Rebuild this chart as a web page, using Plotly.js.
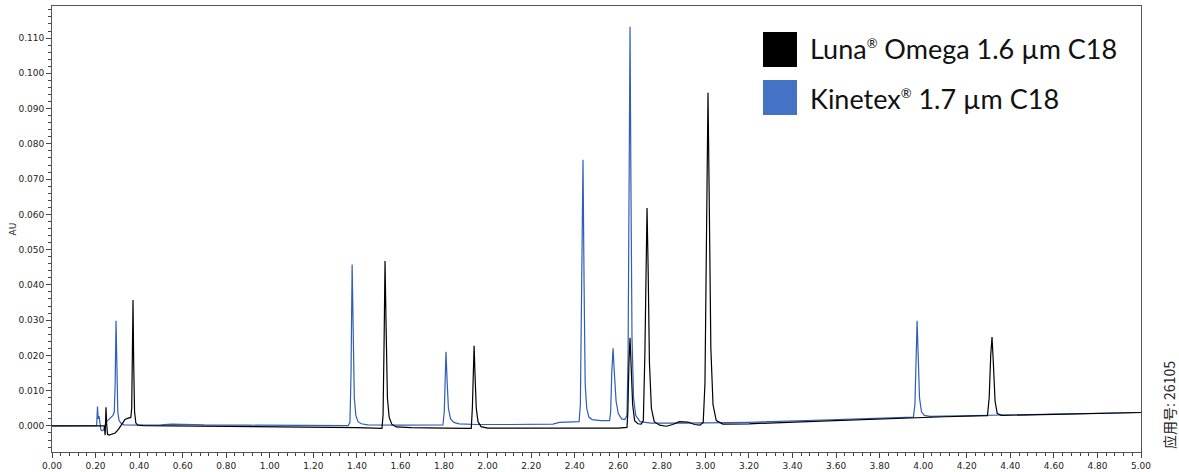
<!DOCTYPE html>
<html>
<head>
<meta charset="utf-8">
<script src="https://cdn.plot.ly/plotly-3.0.1.min.js"></script>
<style>html,body{margin:0;padding:0;background:#fff;}#chart{width:1179px;height:472px;}</style>
</head>
<body>
<div id="chart"></div>
<script>
// Retention time (min) and absorbance (AU)
const lunaTime = [0.00,0.24,0.244,0.246,0.248,0.251,0.255,0.262,0.275,0.290,0.305,0.320,0.335,0.350,0.362,0.366,0.369,0.372,0.375,0.379,0.385,0.395,0.420,0.600,0.800,1.000,1.200,1.400,1.515,1.520,1.525,1.529,1.534,1.540,1.548,1.560,1.580,1.650,1.800,1.925,1.930,1.934,1.938,1.942,1.948,1.956,1.970,2.000,2.300,2.600,2.640,2.644,2.649,2.654,2.659,2.666,2.675,2.690,2.705,2.715,2.722,2.727,2.732,2.737,2.743,2.752,2.765,2.790,2.820,2.850,2.880,2.920,2.950,2.975,2.990,2.998,3.005,3.012,3.018,3.025,3.035,3.050,3.080,3.200,3.500,3.800,4.100,4.295,4.303,4.310,4.316,4.322,4.330,4.340,4.360,4.600,5.000];
const lunaAU = [0.0000,0.0000,-0.0026,0.0000,0.0053,0.0005,-0.0024,-0.0026,-0.0024,-0.0020,-0.0010,0.0006,0.0018,0.0022,0.0024,0.0050,0.0200,0.0357,0.0180,0.0040,0.0008,0.0002,0.0001,0.0000,0.0000,-0.0002,-0.0003,-0.0005,-0.0007,0.0030,0.0250,0.0468,0.0280,0.0080,0.0025,0.0005,-0.0003,-0.0005,-0.0006,-0.0007,0.0050,0.0160,0.0227,0.0150,0.0050,0.0012,-0.0002,-0.0006,-0.0007,-0.0006,-0.0004,0.0040,0.0180,0.0250,0.0170,0.0060,0.0015,0.0006,0.0005,0.0015,0.0200,0.0480,0.0618,0.0450,0.0180,0.0050,0.0012,0.0002,-0.0001,0.0004,0.0012,0.0011,0.0004,0.0002,0.0010,0.0120,0.0600,0.0945,0.0620,0.0220,0.0060,0.0015,0.0005,0.0006,0.0013,0.0020,0.0026,0.0029,0.0080,0.0200,0.0252,0.0180,0.0070,0.0035,0.0030,0.0033,0.0038];

const kinetexTime = [0.00,0.20,0.205,0.209,0.212,0.216,0.220,0.224,0.230,0.236,0.242,0.250,0.260,0.270,0.280,0.286,0.290,0.294,0.298,0.302,0.308,0.316,0.330,0.360,0.400,0.500,0.550,0.650,0.700,0.900,1.200,1.360,1.368,1.373,1.378,1.383,1.388,1.395,1.405,1.420,1.450,1.600,1.795,1.801,1.805,1.809,1.814,1.820,1.830,1.845,1.870,1.950,2.100,2.300,2.330,2.420,2.426,2.432,2.438,2.443,2.448,2.455,2.465,2.480,2.520,2.560,2.565,2.570,2.576,2.582,2.590,2.600,2.615,2.630,2.640,2.645,2.650,2.654,2.658,2.663,2.670,2.680,2.700,2.750,2.900,3.200,3.500,3.800,3.955,3.962,3.967,3.972,3.977,3.983,3.992,4.005,4.030,4.300,4.600,5.000];
const kinetexAU = [0.0000,0.0000,0.0001,0.0055,0.0020,0.0028,0.0002,-0.0010,-0.0014,-0.0012,-0.0002,0.0012,0.0018,0.0024,0.0030,0.0040,0.0120,0.0298,0.0150,0.0040,0.0015,0.0008,0.0003,0.0002,0.0002,0.0003,0.0005,0.0004,0.0003,0.0002,0.0001,0.0001,0.0010,0.0150,0.0458,0.0250,0.0080,0.0030,0.0012,0.0006,0.0003,0.0002,0.0003,0.0040,0.0140,0.0210,0.0130,0.0050,0.0020,0.0010,0.0006,0.0004,0.0004,0.0005,0.0010,0.0012,0.0060,0.0350,0.0755,0.0400,0.0120,0.0050,0.0025,0.0018,0.0015,0.0015,0.0040,0.0150,0.0220,0.0150,0.0070,0.0035,0.0020,0.0018,0.0030,0.0200,0.0700,0.1132,0.0700,0.0250,0.0080,0.0030,0.0012,0.0008,0.0008,0.0010,0.0016,0.0022,0.0025,0.0060,0.0200,0.0298,0.0200,0.0080,0.0040,0.0030,0.0027,0.0030,0.0033,0.0038];

const reg = '<sup><span style="font-size:13px">®</span></sup>';
const seriesNames = ["Luna" + reg + " Omega 1.6 µm C18", "Kinetex" + reg + " 1.7 µm C18"];
const yTickVals = [0.000,0.010,0.020,0.030,0.040,0.050,0.060,0.070,0.080,0.090,0.100,0.110];
const xTickVals = [0.00,0.20,0.40,0.60,0.80,1.00,1.20,1.40,1.60,1.80,2.00,2.20,2.40,2.60,2.80,3.00,3.20,3.40,3.60,3.80,4.00,4.20,4.40,4.60,4.80,5.00];
const appNote = "应用号: 26105";

const blue = "#2f5db8";
const legendBlue = "#4472c4";

const traces = [
  {x: kinetexTime, y: kinetexAU, type: "scatter", mode: "lines", name: "Kinetex",
   line: {color: blue, width: 1.2}, hoverinfo: "skip"},
  {x: lunaTime, y: lunaAU, type: "scatter", mode: "lines", name: "Luna Omega",
   line: {color: "#000000", width: 1.2}, hoverinfo: "skip"}
];

const tickFont = {family: "DejaVu Sans, Verdana, sans-serif", size: 9, color: "#222"};
const legFont = {family: "Lato, 'Open Sans', sans-serif", size: 27, color: "#111"};

const layout = {
  width: 1179, height: 472,
  margin: {l: 52, r: 38, t: 6, b: 20},
  paper_bgcolor: "#fff", plot_bgcolor: "#fff",
  showlegend: false,
  xaxis: {
    range: [0, 5], tickvals: xTickVals, ticktext: xTickVals.map(v => v.toFixed(2)),
    ticks: "outside", ticklen: 5, tickcolor: "#444", tickwidth: 1,
    minor: {dtick: 0.04, tick0: 0, ticks: "outside", ticklen: 3, tickcolor: "#444"},
    showline: true, linecolor: "#555", linewidth: 1, mirror: true,
    showgrid: false, zeroline: false, tickfont: tickFont, automargin: false
  },
  yaxis: {
    range: [-0.0074, 0.1191], tickvals: yTickVals, ticktext: yTickVals.map(v => v.toFixed(3)),
    ticks: "outside", ticklen: 5, tickcolor: "#444", tickwidth: 1,
    minor: {dtick: 0.002, tick0: 0, ticks: "outside", ticklen: 3, tickcolor: "#444"},
    showline: true, linecolor: "#555", linewidth: 1, mirror: true,
    showgrid: false, zeroline: false, tickfont: tickFont, automargin: false,
    title: {text: "AU", font: tickFont, standoff: 0}
  },
  shapes: [
    {type: "rect", xref: "paper", yref: "paper", x0: 0.6529, x1: 0.6841, y0: 0.8632, y1: 0.9417,
     fillcolor: "#000", line: {width: 0}},
    {type: "rect", xref: "paper", yref: "paper", x0: 0.6529, x1: 0.6841, y0: 0.7556, y1: 0.8341,
     fillcolor: legendBlue, line: {width: 0}}
  ],
  annotations: [
    {xref: "paper", yref: "paper", x: 0.6942, y: 0.9036, xanchor: "left", yanchor: "middle",
     text: seriesNames[0], showarrow: false, font: legFont},
    {xref: "paper", yref: "paper", x: 0.6942, y: 0.7915, xanchor: "left", yanchor: "middle",
     text: seriesNames[1], showarrow: false, font: legFont},
    {xref: "paper", yref: "paper", x: 1.0255, y: 0.105, xanchor: "center", yanchor: "middle",
     text: appNote, textangle: -90, showarrow: false,
     font: {family: "'Noto Sans CJK SC', sans-serif", size: 14, color: "#222"}}
  ]
};

Plotly.newPlot("chart", traces, layout, {staticPlot: true, displayModeBar: false});
</script>
</body>
</html>
